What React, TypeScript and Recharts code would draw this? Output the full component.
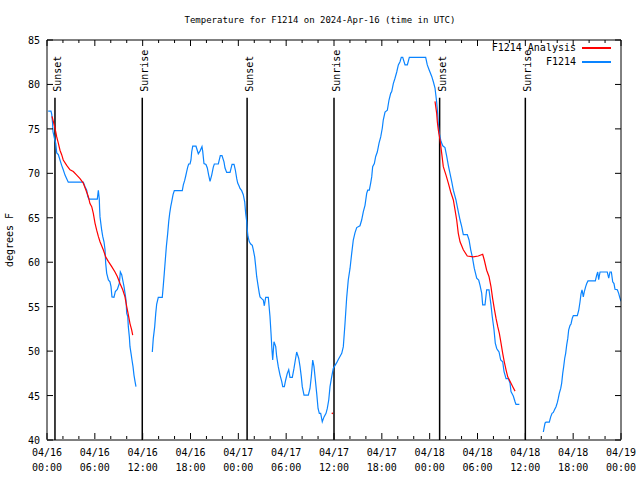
import React from 'react';
import { LineChart, Line, XAxis, YAxis, ReferenceLine, Legend } from 'recharts';

// [hours since 04/16 00:00 UTC, degrees F]
const observed1: [number, number][] = [
  [0.15, 77.0], [0.5, 77.0], [0.6, 76.6], [0.7, 75.6], [0.75, 74.7], [0.97, 73.8], [1.09, 73.4], [1.22, 72.3],
  [1.42, 72.1], [1.63, 71.5], [1.84, 70.9], [2.04, 70.4], [2.26, 69.8], [2.47, 69.4], [2.67, 69.0], [4.55, 69.0],
  [4.77, 68.5], [4.98, 68.1], [5.11, 67.4], [5.27, 67.1], [6.31, 67.1], [6.44, 68.1], [6.56, 67.1], [6.6, 66.0],
  [6.65, 65.1], [6.86, 63.6], [6.99, 62.9], [7.15, 62.3], [7.28, 61.4], [7.36, 59.9], [7.49, 58.75], [7.7, 58.0],
  [7.9, 57.8], [8.03, 57.25], [8.15, 56.1], [8.4, 56.05], [8.57, 56.7], [8.82, 56.95], [9.07, 57.6], [9.2, 58.9],
  [9.37, 58.6], [9.5, 58.0], [9.66, 57.25], [9.79, 56.5], [9.91, 55.75], [10.0, 54.25], [10.13, 53.9], [10.2, 52.75],
  [10.33, 51.6], [10.41, 50.5], [10.54, 49.75], [10.66, 49.0], [10.79, 48.25], [10.91, 47.3], [11.04, 46.6], [11.16, 46.0],
];

const observed2: [number, number][] = [
  [13.21, 49.9], [13.33, 51.4], [13.51, 52.75], [13.64, 54.25], [13.76, 55.3], [13.96, 56.05], [14.46, 56.05], [14.59, 57.4],
  [14.71, 58.75], [14.84, 60.25], [14.97, 61.75], [15.14, 63.25], [15.27, 64.6], [15.39, 65.5], [15.52, 66.25], [15.64, 66.8],
  [15.81, 67.6], [15.97, 68.05], [16.97, 68.05], [17.1, 68.7], [17.27, 69.2], [17.4, 69.7], [17.52, 70.2], [17.65, 70.7],
  [17.77, 71.05], [17.94, 71.05], [18.06, 71.5], [18.15, 72.4], [18.28, 73.05], [18.69, 73.05], [18.98, 72.2], [19.19, 72.5],
  [19.44, 73.0], [19.53, 72.5], [19.69, 71.1], [19.94, 71.0], [20.11, 70.6], [20.28, 69.8], [20.45, 69.1], [20.66, 69.8],
  [20.86, 70.7], [20.99, 71.05], [21.49, 71.05], [21.74, 72.0], [21.95, 72.0], [22.2, 71.3], [22.33, 70.6], [22.54, 70.1],
  [22.96, 70.1], [23.21, 71.0], [23.46, 71.0], [23.62, 70.4], [23.8, 69.4], [23.92, 68.9], [24.08, 68.6], [24.21, 68.3],
  [24.42, 68.05], [24.62, 67.6], [24.8, 66.8], [24.92, 65.5], [25.05, 64.6], [25.13, 63.6], [25.21, 62.9], [25.38, 62.3],
  [25.55, 62.05], [25.75, 61.9], [25.88, 61.4], [26.05, 60.6], [26.18, 59.5], [26.3, 58.4], [26.47, 57.4], [26.63, 56.5],
  [26.72, 56.1], [26.93, 55.9], [27.13, 55.75], [27.26, 55.1], [27.43, 56.05], [27.76, 56.05], [27.97, 53.9], [28.1, 52.0],
  [28.22, 50.1], [28.31, 49.0], [28.47, 51.05], [28.69, 50.5], [28.81, 49.4], [29.01, 48.25], [29.23, 47.3], [29.44, 46.6],
  [29.57, 46.0], [29.77, 46.0], [29.94, 46.75], [30.14, 47.5], [30.32, 47.9], [30.48, 47.05], [30.77, 47.05], [30.98, 48.05],
  [31.15, 49.0], [31.32, 49.9], [31.57, 49.2], [31.74, 48.25], [31.9, 47.1], [32.02, 46.0], [32.24, 45.05], [32.78, 45.05],
  [32.99, 45.8], [33.15, 47.1], [33.33, 49.0], [33.49, 48.25], [33.66, 46.75], [33.83, 45.25], [34.0, 43.55], [34.16, 43.0],
  [34.33, 43.0], [34.53, 42.05], [34.75, 42.6], [35.0, 43.0], [35.16, 43.55], [35.34, 44.5], [35.5, 46.0], [35.71, 47.1],
  [35.91, 48.05], [36.13, 48.4], [36.34, 48.7], [36.54, 49.05], [36.75, 49.4], [36.97, 49.75], [37.17, 50.5], [37.38, 53.1],
  [37.59, 56.0], [37.79, 58.0], [38.01, 59.3], [38.22, 61.0], [38.42, 62.5], [38.63, 63.3], [38.85, 63.9], [39.26, 64.1],
  [39.47, 64.75], [39.68, 65.7], [39.89, 66.4], [40.1, 67.75], [40.23, 68.1], [40.43, 68.1], [40.6, 68.9], [40.73, 69.6],
  [40.85, 70.75], [41.06, 71.1], [41.23, 71.9], [41.43, 72.4], [41.65, 73.4], [41.86, 74.1], [42.06, 75.1], [42.18, 76.0],
  [42.4, 76.9], [42.69, 77.1], [42.9, 78.25], [43.11, 79.0], [43.24, 79.2], [43.44, 80.1], [43.65, 80.7], [43.87, 81.4],
  [44.07, 82.2], [44.28, 82.55], [44.44, 83.05], [44.62, 83.05], [44.91, 82.2], [45.2, 82.2], [45.45, 83.05], [47.5, 83.05],
  [47.7, 82.2], [47.95, 81.6], [48.26, 80.9], [48.46, 80.3], [48.67, 79.6], [48.88, 78.0], [49.0, 76.75], [49.08, 75.6],
  [49.21, 74.5], [49.42, 73.6], [49.64, 73.1], [49.92, 72.9], [50.14, 71.9], [50.34, 70.9], [50.55, 70.0], [50.76, 69.1],
  [50.97, 68.1], [51.3, 67.0], [51.39, 66.6], [51.59, 65.7], [51.81, 64.75], [52.02, 64.0], [52.22, 63.1], [52.72, 63.1],
  [52.94, 62.5], [53.15, 61.4], [53.35, 60.6], [53.6, 59.3], [53.9, 58.2], [54.15, 58.0], [54.32, 57.4], [54.53, 56.5],
  [54.65, 55.2], [54.94, 55.2], [55.15, 56.9], [55.44, 56.9], [55.69, 55.2], [55.85, 53.9], [56.07, 52.4], [56.23, 50.9],
  [56.41, 50.3], [56.54, 50.1], [56.7, 49.9], [56.91, 49.0], [57.16, 48.8], [57.33, 47.7], [57.58, 46.9], [57.87, 46.9],
  [58.08, 46.4], [58.2, 45.45], [58.49, 44.95], [58.71, 44.3], [58.83, 44.0], [59.25, 44.0],
];

const observed3: [number, number][] = [
  [62.26, 40.9], [62.34, 41.3], [62.47, 41.9], [62.59, 42.0], [63.01, 42.0], [63.18, 42.6], [63.35, 43.0], [63.51, 43.1],
  [63.69, 43.45], [63.85, 43.75], [64.01, 44.2], [64.14, 44.7], [64.26, 45.25], [64.44, 45.8], [64.56, 46.4], [64.69, 47.5],
  [64.81, 48.25], [64.94, 49.2], [65.06, 49.75], [65.19, 50.7], [65.32, 51.4], [65.44, 52.4], [65.61, 52.9], [65.73, 53.05],
  [65.89, 53.7], [66.02, 54.0], [66.52, 54.0], [66.7, 54.6], [66.86, 55.55], [66.98, 56.4], [67.11, 56.9], [67.2, 56.5],
  [67.27, 56.1], [67.4, 56.7], [67.57, 57.25], [67.7, 57.6], [67.86, 57.9], [68.78, 57.9], [68.95, 58.55], [69.08, 58.9],
  [69.2, 58.05], [69.37, 58.9], [70.28, 58.9], [70.46, 58.2], [70.62, 58.9], [70.79, 58.9], [70.96, 57.8], [71.12, 57.6],
  [71.25, 56.95], [71.54, 56.9], [71.71, 56.5], [71.84, 56.05], [72.0, 55.6],
];

const analysis1: [number, number][] = [
  [0.63, 76.4], [1.0, 75.1], [1.22, 74.1], [1.42, 73.4], [1.63, 72.6], [1.84, 72.1], [2.04, 71.5], [2.47, 70.9],
  [2.89, 70.4], [3.3, 70.2], [3.73, 69.8], [4.14, 69.4], [4.55, 68.9], [4.89, 68.1], [5.18, 67.4], [5.39, 66.6],
  [5.61, 66.25], [5.81, 65.5], [6.02, 64.4], [6.23, 63.6], [6.44, 62.9], [6.65, 62.3], [7.06, 61.4], [7.36, 60.6],
  [7.69, 60.1], [8.12, 59.5], [8.53, 58.9], [8.82, 58.4], [9.16, 57.6], [9.5, 56.9], [9.78, 56.1], [10.0, 55.0],
  [10.2, 54.1], [10.41, 53.1], [10.62, 52.4], [10.75, 51.8],
];

const analysisLone: [number, number][] = [[35.79, 43.0]];

const analysis2: [number, number][] = [
  [48.67, 78.1], [48.88, 76.75], [48.96, 75.8], [49.08, 74.9], [49.3, 73.75], [49.51, 72.25], [49.71, 70.75], [50.05, 69.8],
  [50.34, 68.9], [50.64, 67.9], [50.97, 67.0], [51.18, 65.9], [51.39, 64.75], [51.59, 63.25], [51.81, 62.3], [52.22, 61.4],
  [52.72, 60.7], [53.47, 60.6], [54.1, 60.7], [54.65, 60.9], [54.85, 60.25], [55.15, 59.1], [55.44, 58.4], [55.69, 57.25],
  [55.9, 55.9], [56.1, 54.8], [56.32, 53.7], [56.54, 52.75], [56.74, 52.0], [56.95, 50.9], [57.16, 49.75], [57.36, 48.8],
  [57.58, 47.9], [57.79, 47.1], [58.08, 46.6], [58.42, 46.0], [58.71, 45.5],
];

const sunsets = [1.0, 25.1, 49.25];
const sunrises = [11.95, 36.0, 60.0];

const xTicks = [0, 2, 4, 6, 8, 10, 12, 14, 16, 18, 20, 22, 24, 26, 28, 30, 32, 34, 36, 38, 40, 42, 44, 46, 48, 50, 52, 54, 56, 58, 60, 62, 64, 66, 68, 70, 72];
const dayLabels = ['04/16', '04/16', '04/16', '04/16', '04/17', '04/17', '04/17', '04/17', '04/18', '04/18', '04/18', '04/18', '04/19'];
const timeLabels = ['00:00', '06:00', '12:00', '18:00', '00:00', '06:00', '12:00', '18:00', '00:00', '06:00', '12:00', '18:00', '00:00'];
const yTicks = [40, 45, 50, 55, 60, 65, 70, 75, 80, 85];

const FONT = '"DejaVu Sans Mono", monospace';
const BLUE = '#0a84ff';
const RED = '#ff0000';

// one table, one key per segment; each line connects across the other keys' rows
const seriesList: [string, [number, number][]][] = [
  ['o1', observed1], ['o2', observed2], ['o3', observed3],
  ['a1', analysis1], ['a2', analysis2], ['lone', analysisLone],
];
const rows: any[] = seriesList
  .flatMap(([key, pts]) => pts.map(([h, t]) => ({ h, [key]: t })))
  .sort((a, b) => a.h - b.h);

function BottomTick({ x, y, payload }: any) {
  const v = payload.value;
  const major = v % 6 === 0;
  const i = v / 6;
  const by = y - 1;
  return (
    <g>
      <line x1={x} x2={x} y1={by} y2={by - (major ? 6 : 3)} stroke="#000" />
      {major && (
        <text x={x} y={by + 17} textAnchor="middle" fontFamily={FONT} fontSize={10} fill="#000">
          {dayLabels[i]}
        </text>
      )}
      {major && (
        <text x={x} y={by + 32} textAnchor="middle" fontFamily={FONT} fontSize={10} fill="#000">
          {timeLabels[i]}
        </text>
      )}
    </g>
  );
}

function TopTick({ x, y, payload }: any) {
  const major = payload.value % 6 === 0;
  return <line x1={x} x2={x} y1={y} y2={y + (major ? 6 : 3)} stroke="#000" />;
}

function LeftTick({ x, y, payload }: any) {
  return (
    <g>
      <line x1={x} x2={x + 6} y1={y} y2={y} stroke="#000" />
      <text x={x - 7} y={y + 4} textAnchor="end" fontFamily={FONT} fontSize={10} fill="#000">
        {payload.value}
      </text>
    </g>
  );
}

function RightTick({ x, y }: any) {
  return <line x1={x} x2={x - 6} y1={y} y2={y} stroke="#000" />;
}

function SunLabel({ viewBox, text }: any) {
  if (!viewBox) return null;
  const lx = viewBox.x + 6;
  const ly = viewBox.y - 6;
  return (
    <text x={lx} y={ly} transform={`rotate(-90 ${lx} ${ly})`} fontFamily={FONT} fontSize={10} fill="#000">
      {text}
    </text>
  );
}

function LegendBox() {
  const row = (label: string, color: string) => (
    <div style={{ display: 'flex', alignItems: 'center', justifyContent: 'flex-end', height: 14 }}>
      <span style={{ fontFamily: FONT, fontSize: 10, lineHeight: '14px' }}>{label}</span>
      <span style={{ display: 'inline-block', width: 29, height: 1.2, background: color, marginLeft: 6 }} />
    </div>
  );
  return (
    <div style={{ width: 611 }}>
      {row('F1214 Analysis', RED)}
      {row('F1214', BLUE)}
    </div>
  );
}

export default function App() {
  return (
    <div style={{ position: 'absolute', left: 0, top: 0, width: 640, height: 480, background: '#fff' }}>
      <LineChart width={640} height={480} data={rows} margin={{ top: 39, right: 18, bottom: 39, left: 46 }}>
        <text x={320} y={23} textAnchor="middle" fontFamily={FONT} fontSize={9} fill="#000">
          Temperature for F1214 on 2024-Apr-16 (time in UTC)
        </text>
        <text x={13} y={240} transform="rotate(-90 13 240)" textAnchor="middle" fontFamily={FONT} fontSize={10} fill="#000">
          degrees F
        </text>
        <XAxis xAxisId="b" type="number" dataKey="h" domain={[0, 72]} ticks={xTicks} interval={0} height={1}
          tickSize={0} tickMargin={0} tickLine={false} stroke="#000" tick={<BottomTick />} allowDataOverflow />
        <XAxis xAxisId="t" orientation="top" type="number" dataKey="h" domain={[0, 72]} ticks={xTicks} interval={0} height={1}
          tickSize={0} tickMargin={0} tickLine={false} stroke="#000" tick={<TopTick />} allowDataOverflow />
        <YAxis yAxisId="l" type="number" domain={[40, 85]} ticks={yTicks} interval={0} width={1}
          tickSize={0} tickMargin={0} tickLine={false} stroke="#000" tick={<LeftTick />} allowDataOverflow />
        <YAxis yAxisId="r" orientation="right" type="number" domain={[40, 85]} ticks={yTicks} interval={0} width={1}
          tickSize={0} tickMargin={0} tickLine={false} stroke="#000" tick={<RightTick />} allowDataOverflow />
        {sunsets.map((h) => (
          <ReferenceLine key={'ss' + h} xAxisId="b" yAxisId="l" segment={[{ x: h, y: 40 }, { x: h, y: 78.5 }]}
            stroke="#000" strokeWidth={1.5} label={<SunLabel text="Sunset" />} />
        ))}
        {sunrises.map((h) => (
          <ReferenceLine key={'sr' + h} xAxisId="b" yAxisId="l" segment={[{ x: h, y: 40 }, { x: h, y: 78.5 }]}
            stroke="#000" strokeWidth={1.5} label={<SunLabel text="Sunrise" />} />
        ))}
        {['o1', 'o2', 'o3'].map((k) => (
          <Line key={k} xAxisId="b" yAxisId="l" dataKey={k} type="linear" connectNulls
            stroke={BLUE} strokeWidth={1.2} dot={false} isAnimationActive={false} legendType="none" />
        ))}
        {['a1', 'a2'].map((k) => (
          <Line key={k} xAxisId="b" yAxisId="l" dataKey={k} type="linear" connectNulls
            stroke={RED} strokeWidth={1.2} dot={false} isAnimationActive={false} legendType="none" />
        ))}
        <Line xAxisId="b" yAxisId="l" dataKey="lone" stroke={RED} connectNulls
          dot={{ r: 0.8, fill: RED, stroke: RED, strokeWidth: 0 }} isAnimationActive={false} legendType="none" />
        <Legend layout="horizontal" verticalAlign="middle" align="center" content={() => <LegendBox />}
          wrapperStyle={{ top: 41, left: 0, width: 640 }} />
      </LineChart>
    </div>
  );
}
